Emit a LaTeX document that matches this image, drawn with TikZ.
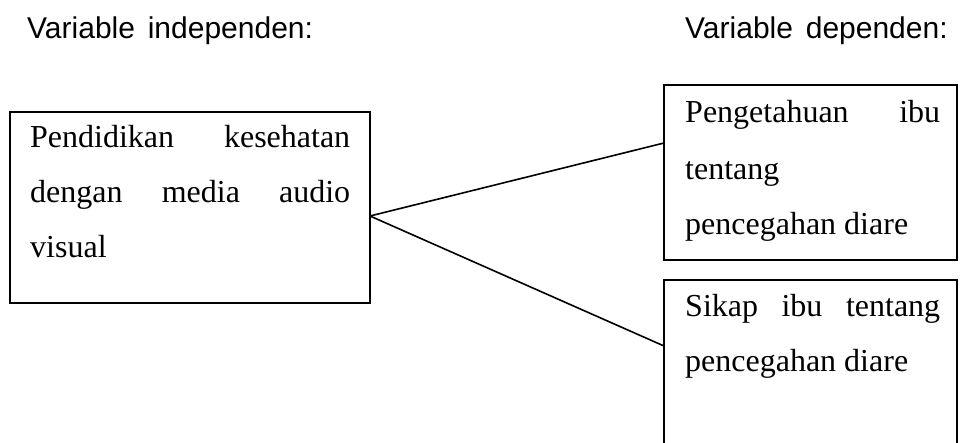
\documentclass[tikz,border=0pt]{standalone}
\usepackage{fontspec}
\setmainfont{Liberation Serif}
\newfontfamily\headfont{Liberation Sans}
\begin{document}
\begin{tikzpicture}[x=1pt,y=-1pt,
  boxnode/.style={draw,line width=1.8pt,minimum width=#1,inner sep=0pt},
  bodytext/.style={anchor=base west,inner sep=0pt,font=\fontsize{32}{36}\selectfont},
  headtext/.style={anchor=base west,inner sep=0pt,font=\headfont\fontsize{30}{34}\selectfont},
  link/.style={line width=1.6pt}]
\useasboundingbox (0,0) rectangle (961,443);
% headers
\node[headtext] (h1) at (27,39) {Variable\hspace{0.15em} independen:};
\node[headtext] (h2) at (685,39) {Variable\hspace{0.15em} dependen:};
% boxes
\node[boxnode=360pt,minimum height=191pt] (L) at (190,207.5) {};
\node[boxnode=293pt,minimum height=175pt] (T) at (810.5,172.5) {};
\node[boxnode=293pt,minimum height=172pt] (B) at (810.5,366) {};
% left text
\node[bodytext] (l1) at (30,148) {\makebox[320pt][s]{Pendidikan kesehatan}};
\node[bodytext] (l2) at (30,203) {\makebox[320pt][s]{dengan media audio}};
\node[bodytext] (l3) at (30,258) {visual};
% top right text
\node[bodytext] (t1) at (685,123) {\makebox[255pt][s]{Pengetahuan ibu}};
\node[bodytext] (t2) at (685,180) {tentang};
\node[bodytext] (t3) at (685,235) {pencegahan diare};
% bottom right text
\node[bodytext] (b1) at (685,317) {\makebox[255pt][s]{Sikap ibu tentang}};
\node[bodytext] (b2) at (685,372) {pencegahan diare};
% connectors
\coordinate (j) at (370,216);
\coordinate (te) at (664,143);
\coordinate (be) at (664,346);
\draw[link] (j) -- (te);
\draw[link] (j) -- (be);
\end{tikzpicture}
\end{document}
